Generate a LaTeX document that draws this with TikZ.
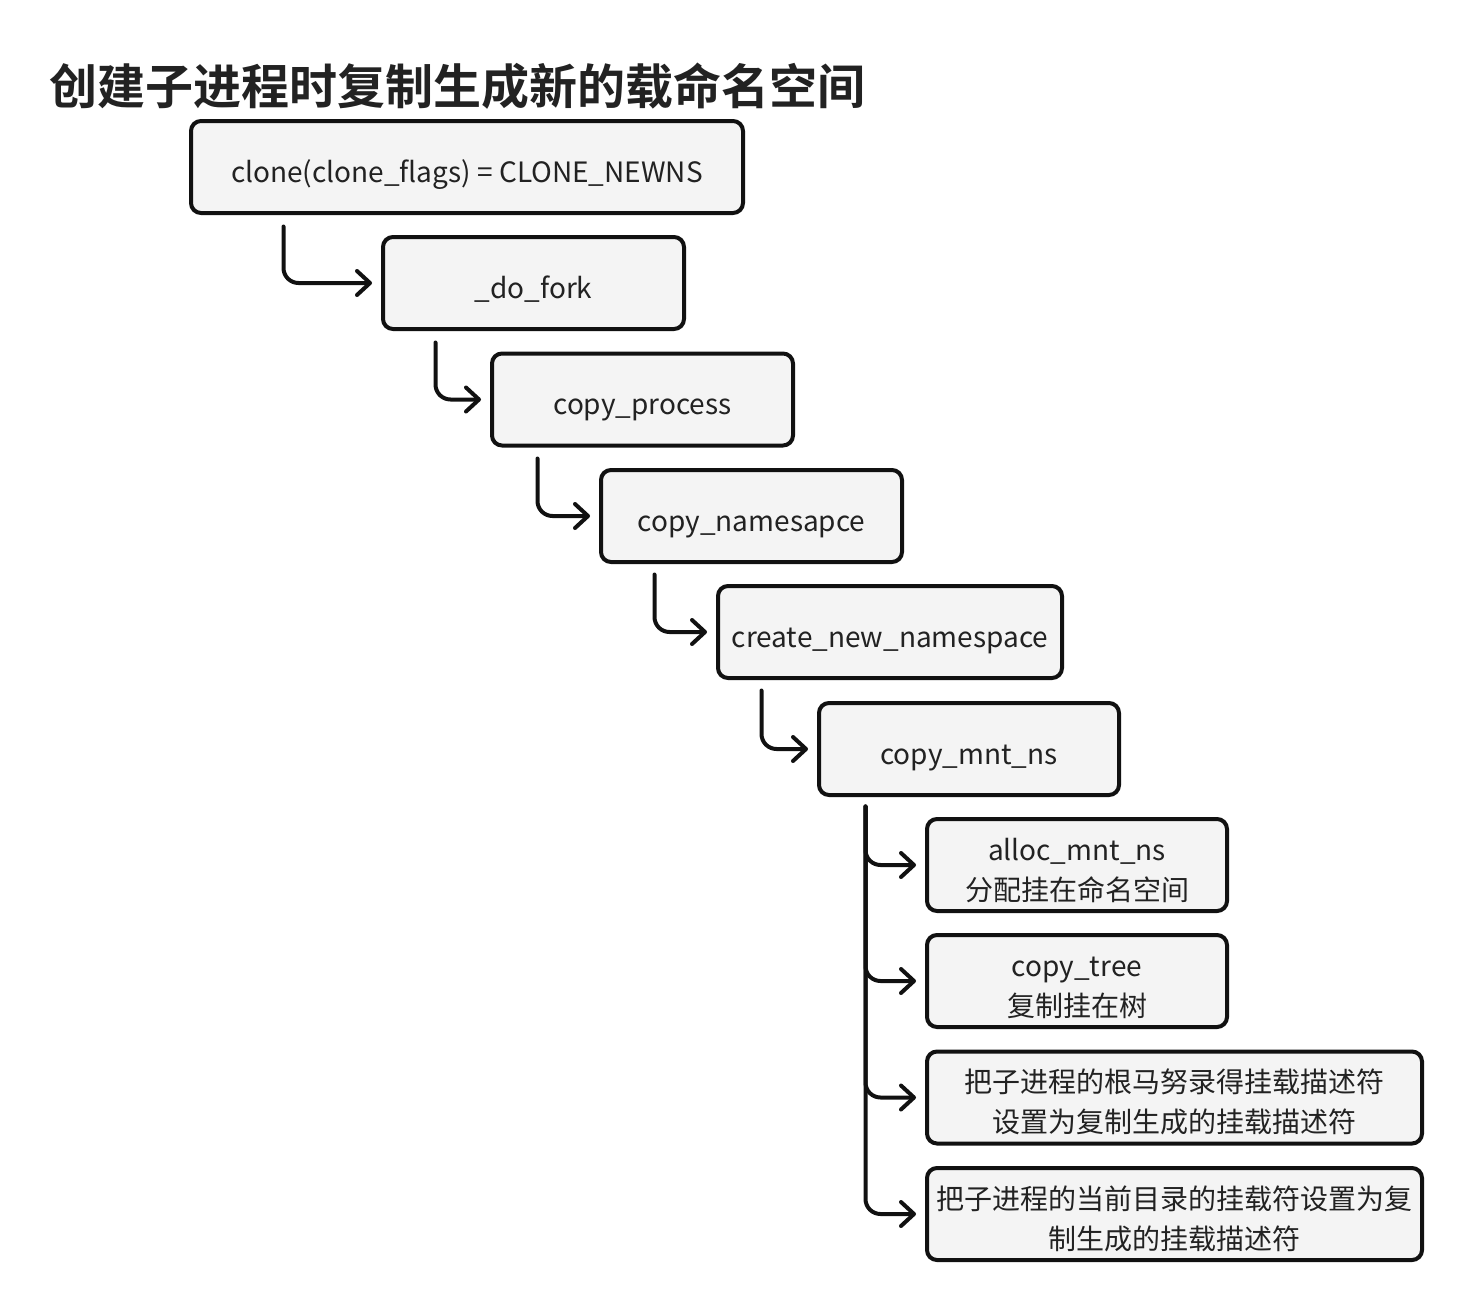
\documentclass[tikz,border=0pt]{standalone}
\usepackage{fontspec}
\setmainfont{Noto Sans CJK SC}
\newfontfamily\titlefont{Noto Sans CJK SC Bold}
\usetikzlibrary{arrows.meta,calc}
\definecolor{ink}{HTML}{111111}
\definecolor{boxfill}{HTML}{F4F4F4}
\definecolor{txt}{HTML}{222222}
% centred box text, set a little below the middle of its box
\newcommand\boxtext[1]{\raisebox{-7pt}[\height][\depth]{\begin{tabular}{@{}c@{}}#1\end{tabular}}}
\begin{document}
\begin{tikzpicture}[x=1pt,y=-1pt,
  callbox/.style={draw=ink, fill=boxfill, line width=4pt, rounded corners=10pt,
    text=txt, inner sep=0pt, minimum height=92pt,
    font=\fontsize{28}{40}\selectfont},
  flow/.style={draw=ink, line width=4pt, rounded corners=15pt, line cap=round,
    -{Straight Barb[length=13pt,width=24pt,line cap=round,line join=round]},
    shorten >=9pt}
]
\useasboundingbox (0,0) rectangle (1476,1312);

% title
\node[anchor=west, inner sep=0pt, text=txt, font=\titlefont\fontsize{48}{56}\selectfont]
  (title) at (49,86) {创建子进程时复制生成新的载命名空间};

% call chain
\node[callbox, minimum width=552pt] (b1) at (467,167) {\boxtext{clone(clone\_flags) = CLONE\_NEWNS}};
\node[callbox, minimum width=301pt] (b2) at (533.5,283) {\boxtext{\_do\_fork}};
\node[callbox, minimum width=301pt] (b3) at (642.5,399.5) {\boxtext{copy\_process}};
\node[callbox, minimum width=301pt] (b4) at (751.5,516) {\boxtext{copy\_namesapce}};
\node[callbox, minimum width=344pt] (b5) at (890,632) {\boxtext{create\_new\_namespace}};
\node[callbox, minimum width=300pt] (b6) at (969,749) {\boxtext{copy\_mnt\_ns}};

% steps inside copy_mnt_ns
\node[callbox, minimum width=300pt] (s1) at (1077,865) {\boxtext{alloc\_mnt\_ns\\分配挂在命名空间}};
\node[callbox, minimum width=300pt] (s2) at (1077,981) {\boxtext{copy\_tree\\复制挂在树}};
\node[callbox, minimum width=495pt] (s3) at (1174.5,1097.5) {\boxtext{把子进程的根马努录得挂载描述符\\设置为复制生成的挂载描述符}};
\node[callbox, minimum width=495pt] (s4) at (1174.5,1214) {\boxtext{把子进程的当前目录的挂载符设置为复\\制生成的挂载描述符}};

% connectors of the call chain
\draw[flow] ($(b1.south west)+(94.5,11.5)$) |- (b2.west);
\draw[flow] ($(b2.south west)+(54.5,11.5)$) |- (b3.west);
\draw[flow] ($(b3.south west)+(47.5,11)$) |- (b4.west);
\draw[flow] ($(b4.south west)+(55.5,10.5)$) |- (b5.west);
\draw[flow] ($(b5.south west)+(45.5,10.5)$) |- (b6.west);

% branches from copy_mnt_ns
\coordinate (trunk) at ($(b6.south west)+(48.5,9.5)$);
\foreach \s in {s1,s2,s3,s4}
  \draw[flow] (trunk) |- (\s.west);
\end{tikzpicture}
\end{document}
